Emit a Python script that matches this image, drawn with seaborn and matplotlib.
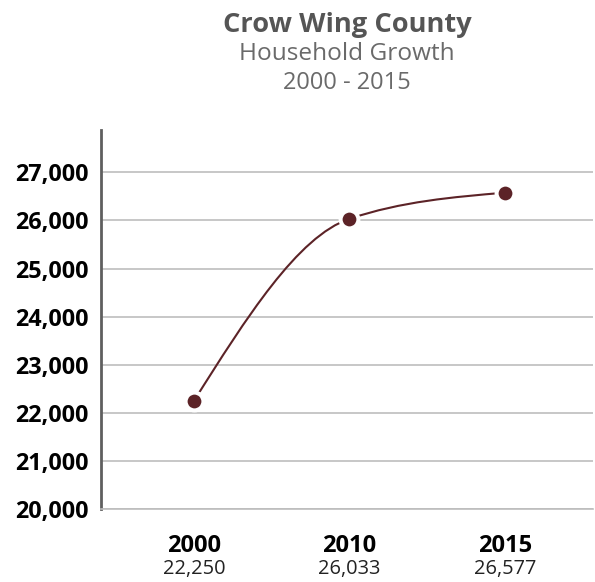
import numpy as np
import pandas as pd
import matplotlib
matplotlib.use("Agg")
import matplotlib.pyplot as plt
import seaborn as sns
from matplotlib.path import Path
from matplotlib.patches import PathPatch

# Households by year
years = ["2000", "2010", "2015"]
households = [22250, 26033, 26577]
value_labels = ["22,250", "26,033", "26,577"]
y_ticks = [20000, 21000, 22000, 23000, 24000, 25000, 26000, 27000]

title = "Crow Wing County"
subtitle = "Household Growth"
period = "2000 - 2015"

line_color = "#5c2327"
grid_color = "#bdbdbd"

sns.set_theme(style="white")
plt.rcParams["font.family"] = ["Open Sans", "DejaVu Sans"]


def monotone_path(x, y):
    """Monotone cubic (Fritsch-Carlson style) Bezier path through the points."""
    x = np.asarray(x, float)
    y = np.asarray(y, float)
    n = len(x)
    h = np.diff(x)
    s = np.diff(y) / h
    t = np.zeros(n)
    for i in range(1, n - 1):
        p = (s[i - 1] * h[i] + s[i] * h[i - 1]) / (h[i - 1] + h[i])
        t[i] = (np.sign(s[i - 1]) + np.sign(s[i])) * min(abs(s[i - 1]), abs(s[i]), 0.5 * abs(p))
    t[0] = (3 * s[0] - t[1]) / 2
    t[-1] = (3 * s[-1] - t[-2]) / 2
    verts = [(x[0], y[0])]
    codes = [Path.MOVETO]
    for i in range(n - 1):
        dx = h[i] / 3
        verts += [(x[i] + dx, y[i] + dx * t[i]),
                  (x[i + 1] - dx, y[i + 1] - dx * t[i + 1]),
                  (x[i + 1], y[i + 1])]
        codes += [Path.CURVE4] * 3
    return Path(verts, codes)


df = pd.DataFrame({"pos": np.arange(len(years)), "households": households})

W, H = 595, 582
fig = plt.figure(figsize=(W / 100, H / 100), dpi=100)
ax = fig.add_axes([101 / W, 1 - 509 / H, (593 - 101) / W, (509 - 130) / H])

# smooth connecting line
curve = PathPatch(monotone_path(df["pos"], df["households"]), facecolor="none",
                  edgecolor=line_color, lw=1.5, zorder=2, capstyle="round")
ax.add_patch(curve)

# points with a white halo
sns.scatterplot(data=df, x="pos", y="households", s=165, color=line_color,
                edgecolor="white", linewidth=2.9, zorder=3, ax=ax, legend=False)

ax.set_xlim(-0.598, 2.566)
ax.set_ylim(20000, 27880)
ax.set_yticks(y_ticks)
ax.set_yticklabels([f"{v:,}" for v in y_ticks], fontsize=16.8, fontweight="bold", color="black")
ax.set_xticks([])
ax.set_xlabel("")
ax.set_ylabel("")
ax.tick_params(axis="y", length=0, pad=9)
ax.yaxis.grid(True, color=grid_color, lw=1.2)
ax.set_axisbelow(True)

for side in ["top", "right"]:
    ax.spines[side].set_visible(False)
ax.spines["left"].set_color("#5f5f5f")
ax.spines["left"].set_linewidth(2)
ax.spines["bottom"].set_color(grid_color)
ax.spines["bottom"].set_linewidth(1.2)

# category labels below the axis
trans = ax.get_xaxis_transform()
for i, (yr, lab) in enumerate(zip(years, value_labels)):
    ax.text(i, -(552 - 509) / (509 - 130), yr, transform=trans, ha="center", va="baseline",
            fontsize=17, fontweight="bold", color="black")
    ax.text(i, -(574 - 509) / (509 - 130), lab, transform=trans, ha="center", va="baseline",
            fontsize=14.4, color="#222222")

cx = 347 / W
fig.text(cx, 1 - 32 / H, title, ha="center", va="baseline", fontsize=19.6,
         fontweight="bold", color="#555555")
fig.text(cx, 1 - 60 / H, subtitle, ha="center", va="baseline", fontsize=17.6,
         color="#6a6a6a")
fig.text(cx, 1 - 89 / H, period, ha="center", va="baseline", fontsize=17,
         color="#6a6a6a")

fig.savefig("out.png", dpi=100)
